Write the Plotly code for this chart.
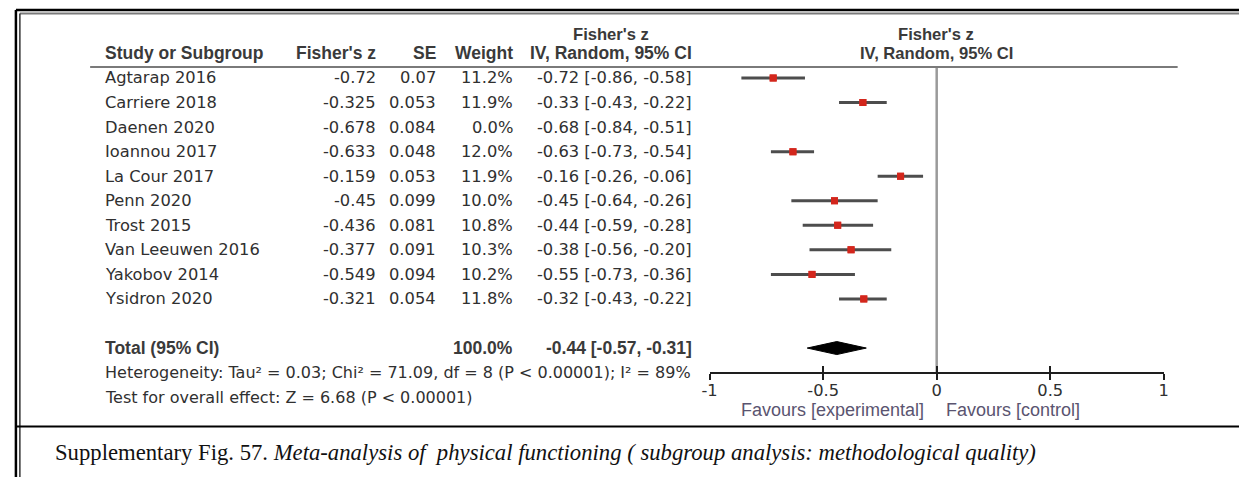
import plotly.graph_objects as go

# ---------------- data ----------------
studies = ["Agtarap 2016", "Carriere 2018", "Daenen 2020", "Ioannou 2017", "La Cour 2017",
           "Penn 2020", "Trost 2015", "Van Leeuwen 2016", "Yakobov 2014", "Ysidron 2020"]
fisher_z = [-0.72, -0.325, -0.678, -0.633, -0.159, -0.45, -0.436, -0.377, -0.549, -0.321]
se = [0.07, 0.053, 0.084, 0.048, 0.053, 0.099, 0.081, 0.091, 0.094, 0.054]
weight = [11.2, 11.9, 0.0, 12.0, 11.9, 10.0, 10.8, 10.3, 10.2, 11.8]
ci_est = [-0.72, -0.33, -0.68, -0.63, -0.16, -0.45, -0.44, -0.38, -0.55, -0.32]
ci_lo = [-0.86, -0.43, -0.84, -0.73, -0.26, -0.64, -0.59, -0.56, -0.73, -0.43]
ci_hi = [-0.58, -0.22, -0.51, -0.54, -0.06, -0.26, -0.28, -0.20, -0.36, -0.22]
total_weight = 100.0
total_est, total_lo, total_hi = -0.44, -0.57, -0.31
tick_vals = [-1, -0.5, 0, 0.5, 1]
tick_text = ["-1", "-0.5", "0", "0.5", "1"]
heterogeneity = "Heterogeneity: Tau² = 0.03; Chi² = 71.09, df = 8 (P < 0.00001); I² = 89%"
overall = "Test for overall effect: Z = 6.68 (P < 0.00001)"
caption_a = "Supplementary Fig. 57. "
caption_b = "Meta-analysis of  physical functioning ( subgroup analysis: methodological quality)"

# ---------------- layout helpers ----------------
W, H = 1244, 477
def px(x):
    return x / W
def py(y):
    return 1 - y / H

ROW0_PX, ROW_H = 78.0, 24.55
TOP_PX, AXIS_PX = 67.0, 372.0
def row_of(ypx):
    return 1 + (ypx - ROW0_PX) / ROW_H

rows = list(range(1, len(studies) + 1))
total_row = 12

SANS = "Liberation Sans, Arial, sans-serif"
WIDE = "DejaVu Sans, Verdana, sans-serif"
TXT = "#303030"
FS = 16.3

fig = go.Figure()

# CI lines + points (studies with weight > 0)
sx, sy, ep, em = [], [], [], []
for r, z, lo, hi, w in zip(rows, fisher_z, ci_lo, ci_hi, weight):
    if w > 0:
        sx.append(z); sy.append(r); ep.append(hi - z); em.append(z - lo)
fig.add_trace(go.Scatter(
    x=sx, y=sy, mode="markers",
    marker=dict(symbol="square", size=7, color="#d3261c", line=dict(width=0)),
    error_x=dict(type="data", symmetric=False, array=ep, arrayminus=em,
                 width=0, thickness=3, color="#4d4d4d"),
    showlegend=False, hoverinfo="skip"))
fig.add_trace(go.Scatter(
    x=sx, y=sy, mode="markers",
    marker=dict(symbol="square", size=7, color="#d3261c", line=dict(width=0)),
    showlegend=False, hoverinfo="skip"))

# diamond for total
h = 6.5 / ROW_H
fig.add_trace(go.Scatter(
    x=[total_lo, total_est, total_hi, total_est, total_lo],
    y=[total_row, total_row - h, total_row, total_row + h, total_row],
    mode="lines", fill="toself", fillcolor="#000000",
    line=dict(color="#000000", width=1), showlegend=False, hoverinfo="skip"))

# invisible trace for second axis (upward ticks)
fig.add_trace(go.Scatter(x=[-1, 1], y=[total_row, total_row], xaxis="x2",
                         mode="markers", marker=dict(opacity=0), showlegend=False,
                         hoverinfo="skip"))

dom_y = [py(AXIS_PX), py(TOP_PX)]
dom_x = [px(709), px(1168)]
fig.update_layout(
    width=W, height=H, margin=dict(l=0, r=0, t=0, b=0),
    paper_bgcolor="white", plot_bgcolor="white",
    xaxis=dict(domain=dom_x, range=[-1, 1], showgrid=False, zeroline=False,
               showline=True, linecolor="#1e1e1e", linewidth=2,
               ticks="outside", ticklen=6, tickwidth=2, tickcolor="#1e1e1e",
               tickvals=tick_vals, ticktext=tick_text, ticklabelstandoff=-4,
               tickfont=dict(family=WIDE, size=FS, color=TXT), anchor="y"),
    xaxis2=dict(domain=dom_x, range=[-1, 1], overlaying="x", side="bottom",
                anchor="y", showgrid=False, zeroline=False, showline=False,
                ticks="inside", ticklen=6, tickwidth=2, tickcolor="#1e1e1e",
                tickvals=tick_vals, showticklabels=False),
    yaxis=dict(domain=dom_y, range=[row_of(AXIS_PX), row_of(TOP_PX)],
               visible=False, showgrid=False, zeroline=False),
)

shapes = []
shapes.append(dict(type="line", xref="x", yref="paper", x0=0, x1=0,
                   y0=py(AXIS_PX), y1=py(TOP_PX), line=dict(color="#9a9a9a", width=2.5),
                   layer="below"))
shapes.append(dict(type="line", xref="paper", yref="paper", x0=px(83), x1=px(1182),
                   y0=py(67), y1=py(67), line=dict(color="#7a7a7a", width=2)))
shapes += [
    dict(type="line", xref="paper", yref="paper", x0=px(8), x1=1, y0=py(10), y1=py(10),
         line=dict(color="#000", width=2.5)),
    dict(type="line", xref="paper", yref="paper", x0=px(12), x1=1, y0=py(13.5), y1=py(13.5),
         line=dict(color="#7a7a7a", width=2)),
    dict(type="line", xref="paper", yref="paper", x0=px(8), x1=px(8), y0=py(10), y1=0,
         line=dict(color="#000", width=2.5)),
    dict(type="line", xref="paper", yref="paper", x0=px(12), x1=px(12), y0=py(13.5), y1=0,
         line=dict(color="#333", width=1.5)),
    dict(type="line", xref="paper", yref="paper", x0=px(8), x1=1, y0=py(426.5), y1=py(426.5),
         line=dict(color="#000", width=2)),
]
fig.update_layout(shapes=shapes)

ann = []
def T(x, y, text, anchor="left", bold=False, size=FS, color=TXT, family=WIDE):
    t = f"<b>{text}</b>" if bold else text
    ann.append(dict(x=x, y=y, xref="paper", yref="paper", text=t, showarrow=False,
                    xanchor=anchor, yanchor="middle", borderpad=0,
                    font=dict(family=family, size=size, color=color)))

HC = "#3a3a3a"
HB = 17.5
HT = 16.6
T(px(609), py(34), "Fisher's z", "center", True, HT, HC, SANS)
T(px(97), py(53), "Study or Subgroup", "left", True, HB, HC, SANS)
T(px(373), py(53), "Fisher's z", "right", True, HB, HC, SANS)
T(px(434), py(53), "SE", "right", True, HB, HC, SANS)
T(px(511), py(53), "Weight", "right", True, HB, HC, SANS)
T(px(692), py(53), "IV, Random, 95% CI", "right", True, HB, HC, SANS)
T(px(938), py(34), "Fisher's z", "center", True, HT, HC, SANS)
T(px(938), py(53.5), "IV, Random, 95% CI", "center", True, HT, HC, SANS)

for r, s, z, e, w, ce, cl, ch in zip(rows, studies, fisher_z, se, weight, ci_est, ci_lo, ci_hi):
    yy = py(ROW0_PX + (r - 1) * ROW_H)
    T(px(97), yy, s)
    T(px(373), yy, str(z), "right")
    T(px(434), yy, str(e), "right")
    T(px(511), yy, f"{w:.1f}%", "right")
    T(px(692), yy, f"{ce:.2f} [{cl:.2f}, {ch:.2f}]", "right")

ytot = py(ROW0_PX + (total_row - 1) * ROW_H)
T(px(97), ytot, "Total (95% CI)", "left", True, HB, HC, SANS)
T(px(511), ytot, f"{total_weight:.1f}%", "right", True, HB, HC, SANS)
T(px(692), ytot, f"{total_est:.2f} [{total_lo:.2f}, {total_hi:.2f}]", "right", True, HB, HC, SANS)
T(px(97), py(ROW0_PX + 12 * ROW_H), heterogeneity, size=16.0)
T(px(97), py(ROW0_PX + 13 * ROW_H), overall, size=16.0)

FAV = "#5a5470"
T(px(927), py(410), "Favours [experimental]", "right", False, 18, FAV, SANS)
T(px(947), py(410), "Favours [control]", "left", False, 18, FAV, SANS)

ann.append(dict(x=px(46), y=py(452), xref="paper", yref="paper", showarrow=False,
                xanchor="left", yanchor="middle", borderpad=0,
                text=caption_a + "<i>" + caption_b + "</i>",
                font=dict(family="Liberation Serif, Times New Roman, serif", size=22.7, color="#111")))
fig.update_layout(annotations=ann)

fig.write_html(
    "out.html",
    config={"displayModeBar": False, "responsive": False},
    post_script=("document.documentElement.style.margin='0';"
                 "document.body.style.margin='0';document.body.style.padding='0';"
                 "document.body.style.overflow='hidden';"),
)
